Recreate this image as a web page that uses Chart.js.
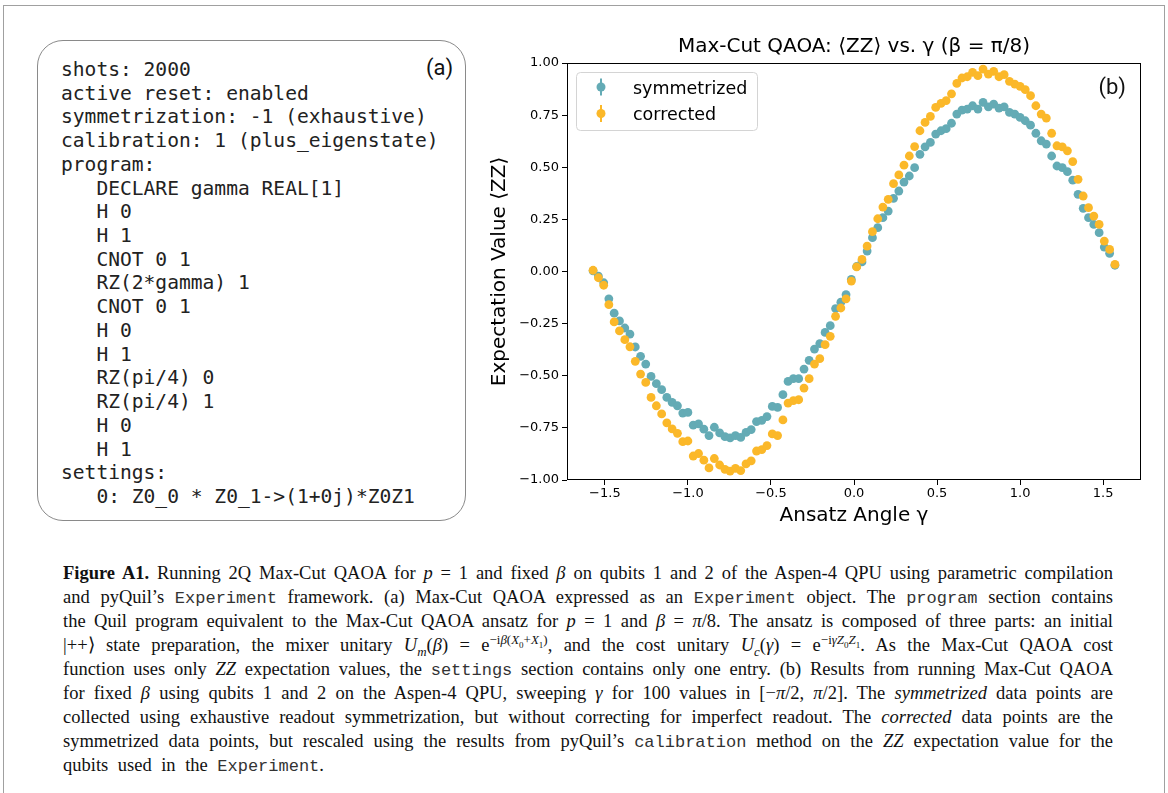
<!DOCTYPE html>
<html>
<head>
<meta charset="utf-8">
<script src="https://cdn.jsdelivr.net/npm/chart.js@4.4.0/dist/chart.umd.min.js"></script>
<style>
body { margin:0; background:#fff; width:1168px; height:793px; overflow:hidden; position:relative; }
#frame { position:absolute; left:3px; top:5px; width:1160px; height:820px; border:1px solid #a0a0a0; }
#code { position:absolute; left:37px; top:40px; width:427px; height:479px; border:1.5px solid #8a8a8a; border-radius:26px; }
#code pre { margin:0; position:absolute; left:23px; top:17px; font-family:"DejaVu Sans Mono", monospace; font-size:19.6px; line-height:23.72px; color:#222; }
#tagA { position:absolute; left:426px; top:55px; font-family:Roboto, sans-serif; font-size:22px; color:#111; }
#chartBox { position:absolute; left:480px; top:28px; }
.cap { position:absolute; left:63px; white-space:nowrap; font-family:"Liberation Serif", serif; font-size:18.5px; line-height:20px; color:#111; }
.cap .m { font-family:"Liberation Mono", monospace; font-size:17px; color:#333; }
.cap sup, .cap sub { font-size:0.7em; line-height:0; }
</style>
</head>
<body>
<div id="frame"></div>

<div id="code">
<pre>shots: 2000
active reset: enabled
symmetrization: -1 (exhaustive)
calibration: 1 (plus_eigenstate)
program:
   DECLARE gamma REAL[1]
   H 0
   H 1
   CNOT 0 1
   RZ(2*gamma) 1
   CNOT 0 1
   H 0
   H 1
   RZ(pi/4) 0
   RZ(pi/4) 1
   H 0
   H 1
settings:
   0: Z0_0 * Z0_1->(1+0j)*Z0Z1</pre>
</div>
<div id="tagA">(a)</div>

<div id="chartBox"><canvas id="chart" width="680" height="510"></canvas></div>

<div class="cap" style="top:563px"><b>Figure A1.</b> Running 2Q Max-Cut QAOA for <i>p</i> = 1 and fixed <i>β</i> on qubits 1 and 2 of the Aspen-4 QPU using parametric compilation</div>
<div class="cap" style="top:587px">and pyQuil’s <span class="m">Experiment</span> framework. (a) Max-Cut QAOA expressed as an <span class="m">Experiment</span> object. The <span class="m">program</span> section contains</div>
<div class="cap" style="top:611px">the Quil program equivalent to the Max-Cut QAOA ansatz for <i>p</i> = 1 and <i>β</i> = <i>π</i>/8. The ansatz is composed of three parts: an initial</div>
<div class="cap" style="top:635px">|++⟩ state preparation, the mixer unitary <i>U<sub>m</sub></i>(<i>β</i>) = e<sup>−i<i>β</i>(<i>X</i><sub>0</sub>+<i>X</i><sub>1</sub>)</sup>, and the cost unitary <i>U<sub>c</sub></i>(<i>γ</i>) = e<sup>−i<i>γZ</i><sub>0</sub><i>Z</i><sub>1</sub></sup>. As the Max-Cut QAOA cost</div>
<div class="cap" style="top:659px">function uses only <i>ZZ</i> expectation values, the <span class="m">settings</span> section contains only one entry. (b) Results from running Max-Cut QAOA</div>
<div class="cap" style="top:683px">for fixed <i>β</i> using qubits 1 and 2 on the Aspen-4 QPU, sweeping <i>γ</i> for 100 values in [−<i>π</i>/2, <i>π</i>/2]. The <i>symmetrized</i> data points are</div>
<div class="cap" style="top:707px">collected using exhaustive readout symmetrization, but without correcting for imperfect readout. The <i>corrected</i> data points are the</div>
<div class="cap" style="top:731px">symmetrized data points, but rescaled using the results from pyQuil’s <span class="m">calibration</span> method on the <i>ZZ</i> expectation value for the</div>
<div class="cap last" style="top:755px">qubits used in the <span class="m">Experiment</span>.</div>

<script>
// ansatz angle gamma, 100 values over [-pi/2, pi/2]
const gamma = [
  -1.571, -1.539, -1.507, -1.476, -1.444, -1.412, -1.380, -1.349, -1.317, -1.285,
  -1.254, -1.222, -1.190, -1.158, -1.127, -1.095, -1.063, -1.031, -1.000, -0.968,
  -0.936, -0.904, -0.873, -0.841, -0.809, -0.777, -0.746, -0.714, -0.682, -0.650,
  -0.619, -0.587, -0.555, -0.524, -0.492, -0.460, -0.428, -0.397, -0.365, -0.333,
  -0.301, -0.270, -0.238, -0.206, -0.174, -0.143, -0.111, -0.079, -0.048, -0.016,
   0.016,  0.048,  0.079,  0.111,  0.143,  0.174,  0.206,  0.238,  0.270,  0.301,
   0.333,  0.365,  0.397,  0.428,  0.460,  0.492,  0.524,  0.555,  0.587,  0.619,
   0.650,  0.682,  0.714,  0.746,  0.777,  0.809,  0.841,  0.873,  0.904,  0.936,
   0.968,  1.000,  1.031,  1.063,  1.095,  1.127,  1.158,  1.190,  1.222,  1.254,
   1.285,  1.317,  1.349,  1.380,  1.412,  1.444,  1.476,  1.507,  1.539,  1.571
];

const symmetrized = [
   0.003, -0.022, -0.054, -0.131, -0.200, -0.237, -0.271, -0.300, -0.362, -0.407,
  -0.444, -0.503, -0.538, -0.567, -0.604, -0.628, -0.644, -0.679, -0.676, -0.737,
  -0.731, -0.756, -0.787, -0.747, -0.774, -0.792, -0.798, -0.787, -0.796, -0.772,
  -0.758, -0.720, -0.714, -0.696, -0.647, -0.652, -0.591, -0.527, -0.514, -0.514,
  -0.468, -0.426, -0.372, -0.346, -0.292, -0.260, -0.178, -0.147, -0.111, -0.038,
   0.024,  0.046,  0.098,  0.162,  0.210,  0.258,  0.290,  0.351,  0.386,  0.429,
   0.458,  0.498,  0.562,  0.598,  0.619,  0.659,  0.675,  0.685,  0.711,  0.755,
   0.774,  0.779,  0.795,  0.779,  0.811,  0.790,  0.803,  0.784,  0.790,  0.763,
   0.755,  0.739,  0.723,  0.702,  0.663,  0.627,  0.611,  0.554,  0.506,  0.498,
   0.479,  0.438,  0.370,  0.303,  0.258,  0.226,  0.186,  0.117,  0.087,  0.030
];

const corrected = [
   0.006, -0.030, -0.066, -0.159, -0.242, -0.285, -0.327, -0.361, -0.431, -0.492,
  -0.532, -0.604, -0.644, -0.683, -0.726, -0.755, -0.776, -0.816, -0.813, -0.885,
  -0.873, -0.905, -0.942, -0.897, -0.928, -0.949, -0.957, -0.944, -0.955, -0.923,
  -0.908, -0.861, -0.854, -0.835, -0.779, -0.787, -0.712, -0.631, -0.619, -0.615,
  -0.559, -0.514, -0.444, -0.418, -0.351, -0.311, -0.215, -0.175, -0.131, -0.046,
   0.022,  0.058,  0.122,  0.191,  0.253,  0.309,  0.346,  0.421,  0.463,  0.510,
   0.554,  0.599,  0.675,  0.715,  0.744,  0.787,  0.806,  0.820,  0.852,  0.902,
   0.928,  0.934,  0.955,  0.939,  0.971,  0.947,  0.960,  0.934,  0.944,  0.912,
   0.899,  0.888,  0.872,  0.843,  0.795,  0.755,  0.736,  0.663,  0.603,  0.598,
   0.579,  0.527,  0.442,  0.362,  0.306,  0.266,  0.226,  0.146,  0.106,  0.034
];

const xTicks = [-1.5, -1.0, -0.5, 0.0, 0.5, 1.0, 1.5];
const yTicks = [-1.0, -0.75, -0.5, -0.25, 0.0, 0.25, 0.5, 0.75, 1.0];
const xRange = [-1.728, 1.728];
const yRange = [-1.0, 1.0];

const TEAL = "#64abb5";
const ORANGE = "#fbb829";

const minus = s => s.replace("-", "\u2212");
const pairs = ys => ys.map((y, i) => ({ x: gamma[i], y: y }));

// axes box, inset legend and the (b) tag
const decorations = {
  id: "decorations",
  afterDatasetsDraw(chart) {
    const ctx = chart.ctx;
    const a = chart.chartArea;
    ctx.save();
    ctx.strokeStyle = "#000";
    ctx.lineWidth = 1;
    const l = Math.round(a.left) + 0.5, t = Math.round(a.top) + 0.5;
    const r = Math.round(a.right) - 0.5, b = Math.round(a.bottom) - 0.5;
    ctx.strokeRect(l, t, r - l, b - t);

    // legend box
    const lx = a.left + 9, ly = a.top + 9, lw = 181, lh = 58;
    ctx.beginPath();
    ctx.roundRect(lx + 0.5, ly + 0.5, lw, lh, 4);
    ctx.fillStyle = "rgba(255,255,255,0.85)";
    ctx.fill();
    ctx.strokeStyle = "#d4d4d4";
    ctx.stroke();

    chart.data.datasets.forEach((ds, k) => {
      const cy = a.top + 24 + k * 26.5;
      const cx = a.left + 34;
      ctx.strokeStyle = ds.backgroundColor;
      ctx.lineWidth = 2;
      ctx.beginPath();
      ctx.moveTo(cx, cy - 8.5);
      ctx.lineTo(cx, cy + 8.5);
      ctx.stroke();
      ctx.beginPath();
      ctx.arc(cx, cy, 4.5, 0, Math.PI * 2);
      ctx.fillStyle = ds.backgroundColor;
      ctx.fill();
      ctx.fillStyle = "#000";
      ctx.font = "17.5px 'DejaVu Sans'";
      ctx.textBaseline = "middle";
      ctx.textAlign = "left";
      ctx.fillText(ds.label, a.left + 66, cy + 2);
    });

    ctx.font = "22px Roboto";
    ctx.textAlign = "right";
    ctx.textBaseline = "middle";
    ctx.fillStyle = "#111";
    ctx.fillText("(b)", a.right - 15, a.top + 25);
    ctx.restore();
  }
};

Chart.defaults.font.family = "'DejaVu Sans'";
Chart.defaults.color = "#000";

new Chart(document.getElementById("chart"), {
  type: "scatter",
  data: {
    datasets: [
      { label: "symmetrized", data: pairs(symmetrized), backgroundColor: TEAL, borderWidth: 0, pointRadius: 4.4, order: 1 },
      { label: "corrected", data: pairs(corrected), backgroundColor: ORANGE, borderWidth: 0, pointRadius: 4.4, order: 0 }
    ]
  },
  options: {
    responsive: false,
    animation: false,
    layout: { padding: { left: 0, right: 19, top: 0, bottom: 0 } },
    plugins: {
      legend: { display: false },
      tooltip: { enabled: false },
      title: {
        display: true,
        fullSize: false,
        text: "Max-Cut QAOA: ⟨ZZ⟩ vs. γ (β = π/8)",
        font: { size: 20, weight: "normal" },
        padding: { top: 7, bottom: 4 },
        color: "#000"
      }
    },
    scales: {
      x: {
        type: "linear",
        min: xRange[0],
        max: xRange[1],
        afterBuildTicks: s => { s.ticks = xTicks.map(v => ({ value: v })); },
        afterFit: s => { s.height = 58; },
        ticks: { font: { size: 13 }, padding: 1, callback: v => minus(v.toFixed(1)) },
        grid: { drawOnChartArea: false, drawTicks: true, tickLength: 5, color: "#000" },
        border: { display: false },
        title: { display: true, text: "Ansatz Angle γ", font: { size: 20 }, padding: { top: 0, bottom: 10 } }
      },
      y: {
        type: "linear",
        min: yRange[0],
        max: yRange[1],
        afterBuildTicks: s => { s.ticks = yTicks.map(v => ({ value: v })); },
        afterFit: s => { s.width = 87; },
        ticks: { font: { size: 13 }, padding: 3, callback: v => minus(v.toFixed(2)) },
        grid: { drawOnChartArea: false, drawTicks: true, tickLength: 5, color: "#000" },
        border: { display: false },
        title: { display: true, text: "Expectation Value ⟨ZZ⟩", font: { size: 20 }, padding: { top: 8, bottom: 0 } }
      }
    }
  },
  plugins: [decorations]
});

// justify the caption lines to the column width
const capWidth = 1050;
const spacing = [];
document.querySelectorAll(".cap:not(.last)").forEach(el => {
  const w = el.getBoundingClientRect().width;
  const n = (el.textContent.match(/ /g) || []).length;
  const ws = (capWidth - w) / n;
  spacing.push(ws);
  el.style.wordSpacing = ws + "px";
});
const avg = spacing.reduce((p, q) => p + q, 0) / spacing.length;
document.querySelector(".cap.last").style.wordSpacing = avg + "px";
</script>
</body>
</html>
